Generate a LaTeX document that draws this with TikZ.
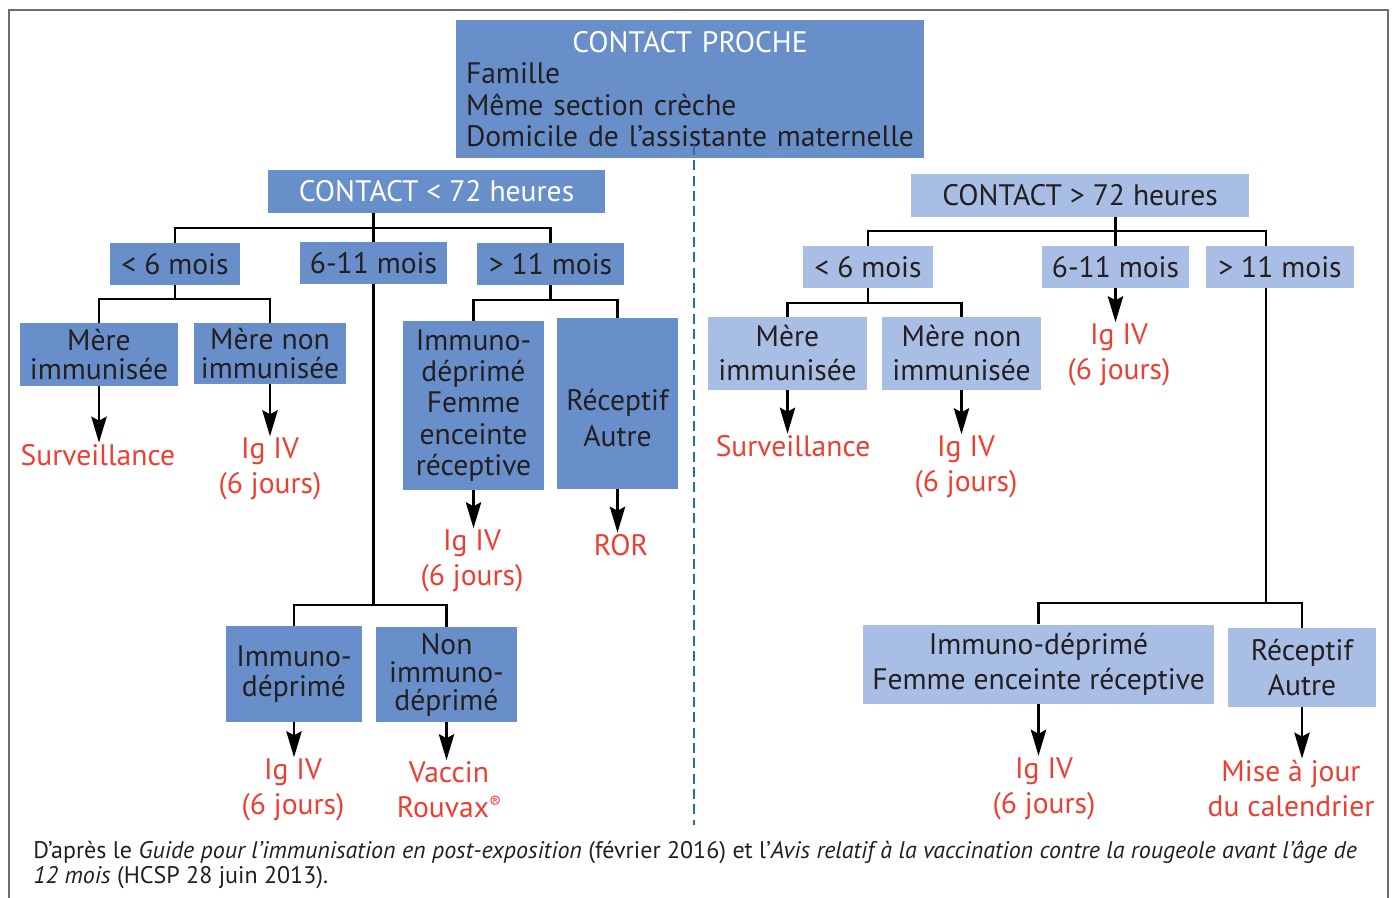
\documentclass[tikz,border=0pt]{standalone}
\usepackage{fontspec}
\setmainfont{PT Sans}
\usetikzlibrary{arrows.meta}
\definecolor{dblue}{RGB}{104,143,202}
\definecolor{lblue}{RGB}{169,190,228}
\definecolor{redt}{RGB}{238,62,50}
\definecolor{txt}{RGB}{35,31,32}
\definecolor{dashc}{RGB}{30,110,185}
\definecolor{framec}{RGB}{110,110,110}
\newcommand\bigf{\fontsize{22.2pt}{23.5pt}\selectfont}
\newcommand\redf{\fontsize{22.2pt}{26.3pt}\selectfont}
\newcommand\capf{\fontsize{18pt}{18.5pt}\selectfont}
\tikzset{
  bx/.style 2 args={minimum width=#1*0.75pt, minimum height=#2*0.75pt},
  dbox/.style={fill=dblue, text=txt, inner sep=0pt, align=center, font=\bigf},
  lbox/.style={fill=lblue, text=txt, inner sep=0pt, align=center, font=\bigf},
  res/.style={text=redt, inner sep=1pt, align=center, font=\redf},
  conn/.style={draw=black, line width=1.9pt},
  arr/.style={draw=black, line width=1.9pt, -{Stealth[length=19.5pt,width=11.5pt,inset=3pt]}},
  dashline/.style={draw=dashc, line width=2pt, dash pattern=on 7.5pt off 4pt},
}
\begin{document}
\begin{tikzpicture}[x=0.75pt,y=-0.75pt]
\useasboundingbox (0,0) rectangle (1396,898);
\draw[framec, line width=1.6pt] (9,898) -- (9,10) -- (1388,10) -- (1388,898);

% top box
\node[dbox, bx={468}{138}, text width=336pt, inner xsep=7.5pt, align=left] (top) at (690,89)
  {\makebox[\linewidth]{\color{white}CONTACT PROCHE}\\Famille\\Même section crèche\\Domicile de l’assistante maternelle};

% ---------- left side ----------
\node[dbox, bx={337}{43}, text=white] (c72) at (436.5,191.5) {CONTACT < 72 heures};
\node[dbox, bx={130}{42}] (l6) at (175,264) {< 6 mois};
\node[dbox, bx={147}{42}] (l611) at (373.5,263) {6-11 mois};
\node[dbox, bx={147}{42}] (l11) at (550.5,264) {> 11 mois};
\node[dbox, bx={158}{63}] (lmi) at (99,354.5) {Mère\\[-2pt]immunisée};
\node[dbox, bx={152}{61}] (lmn) at (270,353.5) {Mère non\\[-2pt]immunisée};
\node[dbox, bx={141}{169}] (lid) at (473.5,405.5) {Immuno-\\déprimé\\Femme\\enceinte\\réceptive};
\node[dbox, bx={121}{171}] (lra) at (617.5,403.5) {\rule{0pt}{38pt}Réceptif\\[3.5pt]Autre};
\node[dbox, bx={136}{96}] (lid2) at (294,674) {Immuno-\\[-1pt]déprimé};
\node[dbox, bx={141}{95}] (lnid) at (446.5,674.5) {Non\\[-2.5pt]immuno-\\[-2.5pt]déprimé};

\node[res] (lsurv) at (98,455) {Surveillance};
\node[res] (lig1) at (270,469) {Ig IV\\(6 jours)};
\node[res] (lig2) at (472,561) {Ig IV\\(6 jours)};
\node[res] (lror) at (621,545) {ROR};
\node[res] (lig3) at (293,790) {Ig IV\\(6 jours)};
\node[res] (lvac) at (449,790) {Vaccin\\Rouvax\raisebox{0.6ex}{\fontsize{13pt}{13pt}\selectfont ®}};

\draw[conn] (c72.south -| l611.north) -- (l611.north);
\draw[conn] (l6.north) -- (l6.north |- 0,228) -- (l11.north |- 0,228) -- (l11.north);
\draw[conn] (l6.south) -- (l6.south |- 0,299);
\draw[conn] (lmi.north) -- (lmi.north |- 0,299) -- (lmn.north |- 0,299) -- (lmn.north);
\draw[conn] (l11.south) -- (l11.south |- 0,300);
\draw[conn] (lid.north) -- (lid.north |- 0,300) -- (lra.north |- 0,300) -- (lra.north);
\draw[conn] (l611.south) -- (l611.south |- 0,605);
\draw[conn] (lid2.north) -- (lid2.north |- 0,605) -- (lnid.north |- 0,605) -- (lnid.north);

\draw[arr] (lmi.south) -- (lmi.south |- lsurv.north);
\draw[arr] (lmn.south) -- (lmn.south |- lig1.north);
\draw[arr] (lid.south) -- (lid.south |- lig2.north);
\draw[arr] (lra.south) -- (lra.south |- lror.north);
\draw[arr] (lid2.south) -- (lid2.south |- lig3.north);
\draw[arr] (lnid.south) -- (lnid.south |- lvac.north);

% ---------- right side ----------
\node[lbox, bx={338}{43}] (c72r) at (1080,195.5) {CONTACT > 72 heures};
\node[lbox, bx={130}{42}] (r6) at (868,267) {< 6 mois};
\node[lbox, bx={147}{42}] (r611) at (1115.5,267) {6-11 mois};
\node[lbox, bx={148}{42}] (r11) at (1280,267) {> 11 mois};
\node[lbox, bx={159}{73}] (rmi) at (787.5,353.5) {Mère\\[2pt]immunisée};
\node[lbox, bx={159}{73}] (rmn) at (961.5,353.5) {Mère non\\[2pt]immunisée};
\node[lbox, bx={351}{79}] (rif) at (1038.5,664) {Immuno-déprimé\\[3pt]Femme enceinte réceptive};
\node[lbox, bx={148}{79}] (rra) at (1302,667.5) {Réceptif\\[3pt]Autre};

\node[res] (rsurv) at (793,446) {Surveillance};
\node[res] (rig1) at (966,467) {Ig IV\\(6 jours)};
\node[res] (rig2) at (1119,355) {Ig IV\\(6 jours)};
\node[res] (rig3) at (1044,788.5) {Ig IV\\(6 jours)};
\node[res] (rmaj) at (1291,788.5) {Mise à jour\\du calendrier};

\draw[conn] (c72r.south -| r611.north) -- (r611.north);
\draw[conn] (r6.north) -- (r6.north |- 0,231) -- (1266,231) -- (r11.north -| 1266,0);
\draw[conn] (r11.south -| 1266,0) -- (1266,603);
\draw[conn] (rif.north) -- (rif.north |- 0,603) -- (rra.north |- 0,603) -- (rra.north);
\draw[conn] (r6.south) -- (r6.south |- 0,303);
\draw[conn] (rmi.north) -- (rmi.north |- 0,303) -- (rmn.north |- 0,303) -- (rmn.north);

\draw[arr] (rmi.south) -- (rmi.south |- rsurv.north);
\draw[arr] (rmn.south) -- (rmn.south |- rig1.north);
\draw[arr] (r611.south) -- (r611.south |- rig2.north);
\draw[arr] (rif.south) -- (rif.south |- rig3.north);
\draw[arr] (rra.south) -- (rra.south |- rmaj.north);

% dashed separator
\coordinate (dtop) at (694,145);
\coordinate (dbot) at (694,825);
\draw[dashline] (dtop) -- (dbot);

% caption
\node[anchor=north west, align=left, inner sep=0pt, text=txt, font=\capf] (cap) at (33,841)
  {D’après le \textit{Guide pour l’immunisation en post-exposition} (février 2016) et l’\textit{Avis relatif à la vaccination contre la rougeole avant l’âge de}\\\textit{12 mois} (HCSP 28 juin 2013).};
\end{tikzpicture}
\end{document}
